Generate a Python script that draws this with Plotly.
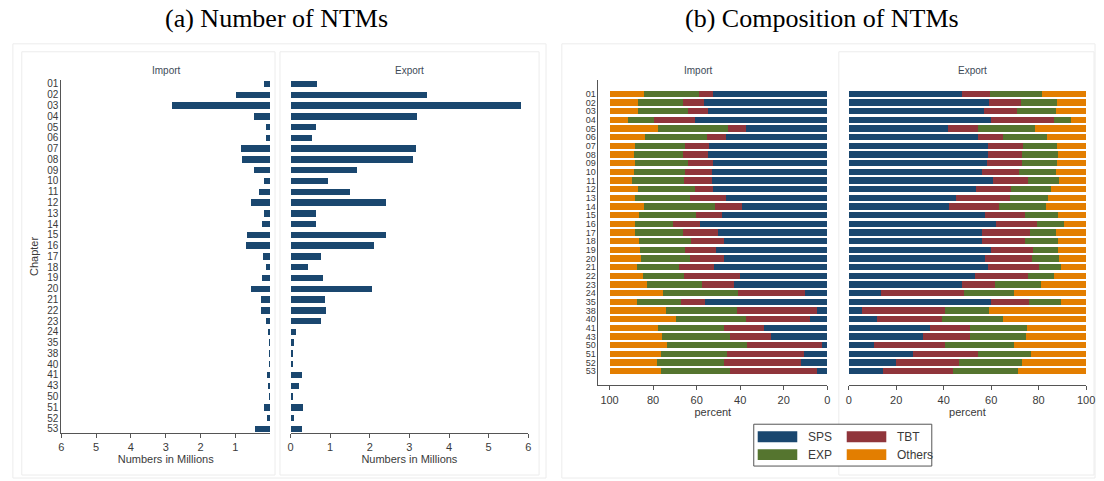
import plotly.graph_objects as go

# ---------------------------------------------------------------- data
chapters = ["01", "02", "03", "04", "05", "06", "07", "08", "09", "10", "11",
            "12", "13", "14", "15", "16", "17", "18", "19", "20", "21", "22",
            "23", "24", "35", "38", "40", "41", "43", "50", "51", "52", "53"]

# number of NTMs (millions)
import_count = [0.16, 0.97, 2.83, 0.47, 0.13, 0.11, 0.83, 0.80, 0.47, 0.16, 0.33,
                0.54, 0.18, 0.22, 0.66, 0.69, 0.21, 0.12, 0.22, 0.55, 0.25, 0.27,
                0.13, 0.06, 0.02, 0.02, 0.02, 0.08, 0.05, 0.02, 0.16, 0.10, 0.42]
export_count = [0.67, 3.44, 5.81, 3.20, 0.63, 0.55, 3.17, 3.10, 1.69, 0.94, 1.51,
                2.41, 0.63, 0.63, 2.41, 2.11, 0.76, 0.43, 0.81, 2.06, 0.86, 0.90,
                0.76, 0.15, 0.09, 0.05, 0.05, 0.30, 0.22, 0.05, 0.32, 0.09, 0.28]

# composition of NTMs (percent)
import_sps = [52.4, 56.8, 54.8, 60.6, 37.4, 46.7, 54.4, 54.8, 52.7, 53.0, 53.0,
              52.3, 46.7, 39.2, 48.5, 58.6, 50.3, 47.3, 50.9, 47.3, 51.8, 40.2,
              42.7, 10.3, 56.1, 4.5, 7.9, 29.1, 25.8, 2.3, 10.9, 12.1, 4.5]
import_tbt = [6.4, 9.4, 9.1, 19.2, 8.1, 8.6, 11.1, 11.4, 11.2, 12.2, 12.9,
              8.6, 16.2, 12.3, 11.8, 12.3, 16.1, 15.3, 14.3, 15.9, 16.4, 25.7,
              14.9, 30.6, 11.3, 36.9, 29.5, 18.3, 18.9, 34.5, 35.3, 35.2, 40.2]
import_exp = [25.3, 20.6, 22.9, 11.7, 32.1, 28.5, 23.0, 22.4, 24.6, 23.7, 23.6,
              25.9, 25.3, 32.9, 26.2, 17.6, 22.1, 23.9, 21.0, 22.4, 19.2, 18.6,
              25.4, 34.7, 20.2, 32.8, 32.3, 30.3, 31.4, 36.7, 30.3, 30.7, 31.7]
import_oth = [15.9, 13.2, 13.2, 8.5, 22.4, 16.2, 11.5, 11.4, 11.5, 11.1, 10.5,
              13.2, 11.8, 15.6, 13.5, 11.5, 11.5, 13.5, 13.8, 14.4, 12.6, 15.5,
              17.0, 24.4, 12.4, 25.8, 30.3, 22.3, 23.9, 26.5, 23.5, 22.0, 23.6]

export_sps = [47.9, 58.9, 56.8, 59.9, 41.7, 54.6, 58.5, 58.5, 58.1, 56.0, 60.8,
              53.5, 45.1, 42.4, 57.4, 61.9, 56.0, 56.3, 59.9, 57.6, 58.6, 53.2,
              47.6, 13.6, 60.1, 5.8, 11.8, 34.4, 31.3, 10.6, 26.9, 20.1, 14.3]
export_tbt = [11.8, 13.6, 14.2, 26.5, 12.6, 10.4, 15.0, 14.7, 14.8, 15.8, 14.9,
              14.8, 22.7, 21.1, 17.0, 17.3, 20.5, 18.1, 17.7, 19.5, 21.5, 22.2,
              14.2, 34.9, 15.9, 34.6, 27.6, 16.7, 19.8, 29.8, 27.7, 26.4, 29.7]
export_exp = [21.8, 15.4, 16.2, 7.1, 24.2, 18.5, 14.3, 15.1, 14.9, 15.4, 12.9,
              16.8, 16.2, 19.8, 13.8, 11.4, 10.7, 13.8, 10.6, 11.4, 9.2, 11.0,
              19.0, 21.1, 13.3, 18.6, 25.5, 23.8, 23.5, 29.3, 22.2, 26.6, 27.3]
export_oth = [18.5, 12.1, 12.8, 6.5, 21.5, 16.5, 12.2, 11.7, 12.2, 12.8, 11.4,
              14.9, 16.0, 16.7, 11.8, 9.4, 12.8, 11.8, 11.8, 11.5, 10.7, 13.6,
              19.2, 30.4, 10.7, 41.0, 35.1, 25.1, 25.4, 30.3, 23.2, 26.9, 28.7]

measure_names = ["SPS", "TBT", "EXP", "Others"]
colors = {"SPS": "#1a476f", "TBT": "#90353b", "EXP": "#55752f", "Others": "#e37e00"}

# ---------------------------------------------------------------- layout helpers
W, H = 1104, 481


def xdom(a, b):
    return [a / W, b / W]


def ydom(top, bottom):
    return [1 - bottom / H, 1 - top / H]


def px(x):
    return x / W


def py(y):
    return 1 - y / H


TEXT = "#3a3a3a"
SANS = "Liberation Sans"
SERIF = "Liberation Serif"

fig = go.Figure()

# ---- (a) counts
fig.add_trace(go.Bar(y=chapters, x=import_count, orientation="h", width=0.6,
                     marker=dict(color=colors["SPS"], line=dict(width=0)),
                     xaxis="x", yaxis="y", showlegend=False))
fig.add_trace(go.Bar(y=chapters, x=export_count, orientation="h", width=0.6,
                     marker=dict(color=colors["SPS"], line=dict(width=0)),
                     xaxis="x2", yaxis="y2", showlegend=False))

# ---- (b) composition, stacked
imp = {"SPS": import_sps, "TBT": import_tbt, "EXP": import_exp, "Others": import_oth}
exp = {"SPS": export_sps, "TBT": export_tbt, "EXP": export_exp, "Others": export_oth}
for name in measure_names:
    fig.add_trace(go.Bar(y=chapters, x=imp[name], orientation="h", width=0.74,
                         marker=dict(color=colors[name], line=dict(width=0)),
                         name=name, xaxis="x3", yaxis="y3", showlegend=False))
    fig.add_trace(go.Bar(y=chapters, x=exp[name], orientation="h", width=0.74,
                         marker=dict(color=colors[name], line=dict(width=0)),
                         name=name, xaxis="x4", yaxis="y4", showlegend=False))

tickfont = dict(family=SANS, size=11, color=TEXT)
ytickfont_a = dict(family=SANS, size=10, color=TEXT)
ytickfont_b = dict(family=SANS, size=9, color=TEXT)

xcommon = dict(showgrid=False, zeroline=False, showline=True, linecolor="#555",
               linewidth=1, ticks="outside", ticklen=4, tickcolor="#555",
               tickfont=tickfont, fixedrange=True)
ycat = dict(type="category", categoryorder="array", categoryarray=chapters,
            tickmode="array", tickvals=chapters, ticktext=chapters,
            showgrid=False, zeroline=False, fixedrange=True)
range_a = [32.4, -0.4]
range_b = [33.64, -1.64]

fig.update_layout(
    width=W, height=H,
    margin=dict(l=0, r=0, t=0, b=0),
    paper_bgcolor="white", plot_bgcolor="white",
    barmode="stack", showlegend=False,
    xaxis=dict(domain=xdom(59, 270), range=[6, 0], tickvals=[6, 5, 4, 3, 2, 1],
               anchor="y",
               title=dict(text="Numbers in Millions", standoff=2,
                          font=dict(family=SANS, size=11, color=TEXT)),
               **xcommon),
    yaxis=dict(domain=ydom(79, 434), anchor="x", range=range_a, showline=True,
               linecolor="#555", linewidth=1, ticks="", tickfont=ytickfont_a,
               title=dict(text="Chapter", standoff=6,
                          font=dict(family=SANS, size=11, color=TEXT)),
               **ycat),
    xaxis2=dict(domain=xdom(290.7, 531), range=[0, 6], tickvals=[0, 1, 2, 3, 4, 5, 6],
                anchor="y2",
                title=dict(text="Numbers in Millions", standoff=2,
                           font=dict(family=SANS, size=11, color=TEXT)),
                **xcommon),
    yaxis2=dict(domain=ydom(79, 434), anchor="x2", range=range_a, showline=False,
                showticklabels=False, ticks="", **ycat),
    xaxis3=dict(domain=xdom(602, 833.3), range=[105.1, 0],
                tickvals=[100, 80, 60, 40, 20, 0], anchor="y3",
                title=dict(text="percent", standoff=2,
                           font=dict(family=SANS, size=11, color=TEXT)),
                **xcommon),
    yaxis3=dict(domain=ydom(79, 386), anchor="x3", range=range_b, showline=True,
                linecolor="#555", linewidth=1, ticks="", tickfont=ytickfont_b,
                **ycat),
    xaxis4=dict(domain=xdom(855, 1095), range=[0, 100],
                tickvals=[0, 20, 40, 60, 80, 100], anchor="y4",
                title=dict(text="percent", standoff=2,
                           font=dict(family=SANS, size=11, color=TEXT)),
                **xcommon),
    yaxis4=dict(domain=ydom(79, 386), anchor="x4", range=range_b, showline=False,
                showticklabels=False, ticks="", **ycat),
)

# ---- panel frames
frame_color = "#ececec"
shapes = []
for (x0, y0, x1, y1) in [(10, 43, 549, 479), (19, 51, 275, 476), (280, 51, 542, 476),
                         (565, 43, 1104, 479), (845, 51, 1103, 476)]:
    shapes.append(dict(type="rect", xref="paper", yref="paper",
                       x0=px(x0), x1=px(x1), y0=py(y1), y1=py(y0),
                       line=dict(color=frame_color, width=1), layer="below"))

# ---- legend box for panel (b)
shapes.append(dict(type="rect", xref="paper", yref="paper",
                   x0=px(759), x1=px(939), y0=py(467), y1=py(425),
                   line=dict(color="#555", width=1), fillcolor="white"))
legend_slots = {"SPS": (763, 432), "TBT": (853, 432), "EXP": (763, 450), "Others": (853, 450)}
annotations = []
for name in measure_names:
    sx, sy = legend_slots[name]
    shapes.append(dict(type="rect", xref="paper", yref="paper",
                       x0=px(sx), x1=px(sx + 40), y0=py(sy + 11), y1=py(sy),
                       line=dict(width=0), fillcolor=colors[name]))
    annotations.append(dict(text=name, xref="paper", yref="paper",
                            x=px(sx + 49), y=py(sy + 5.5), xanchor="left",
                            yanchor="middle", showarrow=False,
                            font=dict(family=SANS, size=12, color=TEXT)))

# ---- titles
for text, x in [("(a) Number of NTMs", 277), ("(b) Composition of NTMs", 828)]:
    annotations.append(dict(text=text, xref="paper", yref="paper", x=px(x), y=py(18),
                            xanchor="center", yanchor="middle", showarrow=False,
                            font=dict(family=SERIF, size=26, color="black")))
for text, x in [("Import", 165), ("Export", 411), ("Import", 703), ("Export", 980)]:
    annotations.append(dict(text=text, xref="paper", yref="paper", x=px(x), y=py(70),
                            xanchor="center", yanchor="middle", showarrow=False,
                            font=dict(family=SANS, size=10, color="#3d4a57")))

fig.update_layout(shapes=shapes, annotations=annotations)

fig.write_html("out.html")
